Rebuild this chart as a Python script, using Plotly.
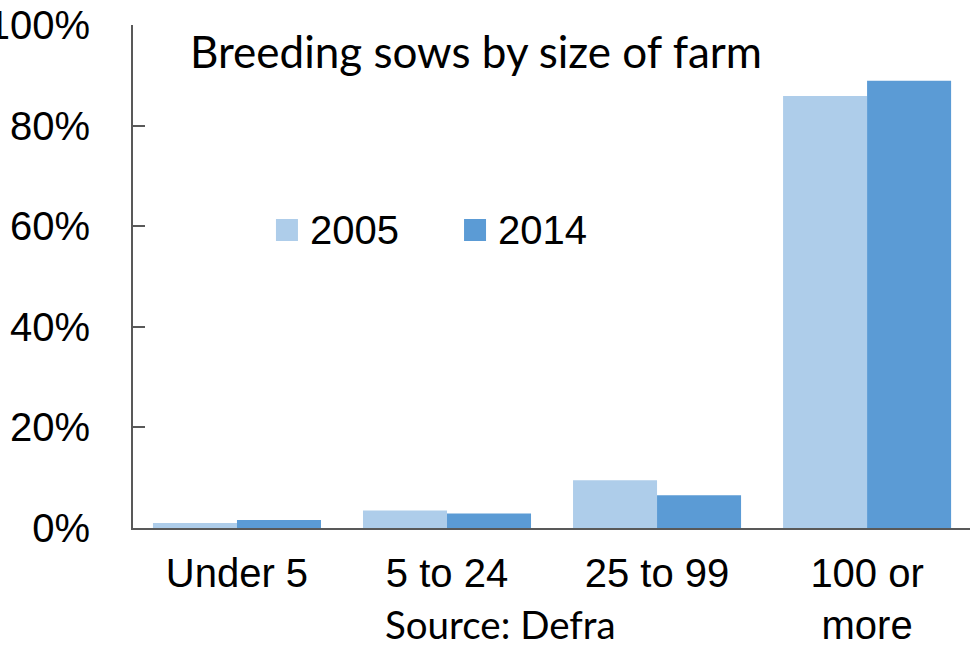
import plotly.graph_objects as go

# Farm size bands (number of breeding sows per holding)
categories = ["Under 5", "5 to 24", "25 to 99", "100 or<br>more"]
years = ["2005", "2014"]
share_2005 = [0.010, 0.035, 0.095, 0.859]
share_2014 = [0.016, 0.029, 0.065, 0.889]
series_values = [share_2005, share_2014]
series_colors = ["#AECDEA", "#5B9BD5"]
y_ticks = [0, 0.2, 0.4, 0.6, 0.8, 1.0]
y_tick_labels = ["0%", "20%", "40%", "60%", "80%", "100%"]

AXIS_FONT = "Liberation Sans, Arial, sans-serif"
CAL_FONT = "Lato, Carlito, Calibri, sans-serif"
AXIS_GREY = "#595959"

fig = go.Figure()
for name, vals, col in zip(years, series_values, series_colors):
    fig.add_trace(go.Bar(
        x=categories, y=vals, name=name,
        marker=dict(color=col, line=dict(width=0)),
        showlegend=False,
    ))

fig.update_layout(
    width=970, height=648,
    margin=dict(l=133, r=0, t=25, b=120),
    paper_bgcolor="white", plot_bgcolor="white",
    barmode="group", bargap=0.2, bargroupgap=0,
    font=dict(family=AXIS_FONT, size=40, color="black"),
)

fig.update_xaxes(
    range=[-0.495, 3.49], automargin=False,
    showline=True, linecolor=AXIS_GREY, linewidth=2,
    ticks="", showgrid=False, zeroline=False,
    tickfont=dict(family=AXIS_FONT, size=40, color="black"),
    ticklabelstandoff=9,
)
fig.update_yaxes(
    range=[0, 1], automargin=False,
    tickvals=y_ticks, ticktext=y_tick_labels,
    showline=True, linecolor=AXIS_GREY, linewidth=2,
    ticks="inside", ticklen=12, tickwidth=1.5, tickcolor=AXIS_GREY,
    showgrid=False, zeroline=False,
    tickfont=dict(family=AXIS_FONT, size=40, color="black"),
    ticklabelstandoff=33,
)

# Chart title inside the plot area
fig.add_annotation(
    text="Breeding sows by size of farm",
    xref="paper", yref="paper", x=0.066, y=0.949,
    xanchor="left", yanchor="middle", showarrow=False,
    font=dict(family=CAL_FONT, size=44, color="black"),
)

# Source note below the category labels
fig.add_annotation(
    text="Source: Defra",
    xref="paper", yref="paper", x=0.4385, y=-0.191,
    xanchor="center", yanchor="middle", showarrow=False,
    font=dict(family=CAL_FONT, size=38.5, color="black"),
)

# Legend: coloured squares with year labels
legend_x = [0.1708, 0.3955]
for name, col, lx in zip(years, series_colors, legend_x):
    fig.add_shape(
        type="rect", xref="paper", yref="paper",
        x0=lx, x1=lx + 22 / 837, y0=0.5924 - 11 / 503, y1=0.5924 + 11 / 503,
        fillcolor=col, line=dict(width=0),
    )
    fig.add_annotation(
        text=name, xref="paper", yref="paper",
        x=lx + 32 / 837, y=0.5924,
        xanchor="left", yanchor="middle", showarrow=False,
        font=dict(family=AXIS_FONT, size=40, color="black"),
    )

fig.write_html("out.html")
